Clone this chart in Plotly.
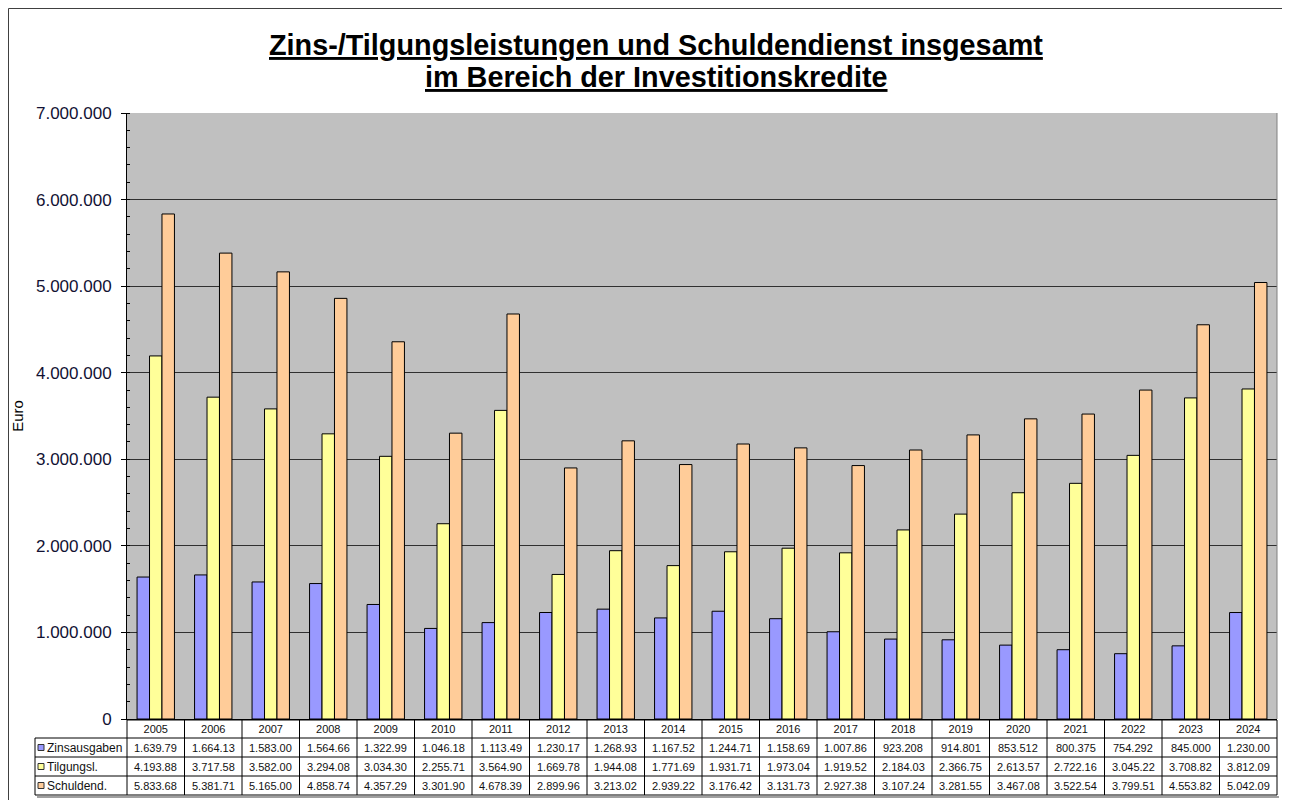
import plotly.graph_objects as go

years = [str(y) for y in range(2005, 2025)]
zins = [1639790, 1664130, 1583000, 1564660, 1322990, 1046180, 1113490, 1230170, 1268930, 1167520,
        1244710, 1158690, 1007860, 923208, 914801, 853512, 800375, 754292, 845000, 1230000]
tilg = [4193880, 3717580, 3582000, 3294080, 3034300, 2255710, 3564900, 1669780, 1944080, 1771690,
        1931710, 1973040, 1919520, 2184030, 2366750, 2613570, 2722160, 3045220, 3708820, 3812090]
schuld = [5833680, 5381710, 5165000, 4858740, 4357290, 3301900, 4678390, 2899960, 3213020, 2939220,
          3176420, 3131730, 2927380, 3107240, 3281550, 3467080, 3522540, 3799510, 4553820, 5042090]
series_names = ["Zinsausgaben", "Tilgungsl.", "Schuldend."]
colors = ["#9999FF", "#FFFF99", "#FFCC99"]
series = [zins, tilg, schuld]
title_lines = ["Zins-/Tilgungsleistungen und Schuldendienst insgesamt",
               "im Bereich der Investitionskredite"]

OFF = 8  # page body margin
W, H = 1290 - OFF, 800 - OFF
L, T = 127 - OFF, 113 - OFF
R = W - (1277 - OFF)
B = H - (719 - OFF)
PW, PH = W - L - R, H - T - B


def px(xp):
    return (xp - OFF - L) / PW


def py(yp):
    return (H - B - (yp - OFF)) / PH


def cell_text(v):
    # Excel data table shows truncated cell contents
    return f"{v:,}".replace(",", ".")[:8]


fig = go.Figure()
for name, vals, col in zip(series_names, series, colors):
    fig.add_trace(go.Bar(x=years, y=vals, name=name,
                         marker=dict(color=col, line=dict(color="black", width=1)),
                         showlegend=False))

n = len(years)
shapes = []
annotations = []
row_y = [738, 757, 776, 795]
tl = dict(color="black", width=1)
shapes.append(dict(type="line", xref="paper", yref="paper", x0=0, x1=1, y0=py(720), y1=py(720), line=tl))
for yy in row_y:
    shapes.append(dict(type="line", xref="paper", yref="paper", x0=px(35), x1=1, y0=py(yy), y1=py(yy), line=tl))
for i in range(n + 1):
    shapes.append(dict(type="line", xref="paper", yref="paper", x0=i / n, x1=i / n, y0=py(720), y1=py(795),
                       line=tl))
shapes.append(dict(type="line", xref="paper", yref="paper", x0=px(35), x1=px(35), y0=py(738), y1=py(795),
                   line=tl))
# table shadow
shapes.append(dict(type="line", xref="paper", yref="paper", x0=px(37), x1=px(1279), y0=py(797), y1=py(797),
                   line=dict(color="#A0A0A0", width=2)))
# plot area right frame
shapes.append(dict(type="line", xref="paper", yref="paper", x0=1, x1=1, y0=0, y1=1,
                   line=dict(color="#808080", width=1)))
# outer chart frame
shapes.append(dict(type="line", xref="paper", yref="paper", x0=px(8.5), x1=px(1290), y0=py(8.5), y1=py(8.5),
                   line=dict(color="#404040", width=1)))
shapes.append(dict(type="line", xref="paper", yref="paper", x0=px(8.5), x1=px(8.5), y0=py(8.5), y1=py(800),
                   line=dict(color="#404040", width=1)))

for r, (name, vals, col) in enumerate(zip(series_names, series, colors)):
    yc = py((row_y[r] + row_y[r + 1]) / 2)
    shapes.append(dict(type="rect", xref="paper", yref="paper", xsizemode="pixel", ysizemode="pixel",
                       xanchor=px(41), yanchor=yc, x0=-3, x1=3, y0=-3, y1=3,
                       fillcolor=col, line=dict(color="#333333", width=1)))
    annotations.append(dict(xref="paper", yref="paper", x=px(45), y=yc, text=name, showarrow=False,
                            xanchor="left", yanchor="middle",
                            font=dict(family="Liberation Sans, Arial", size=12, color="#111")))
    for i, v in enumerate(vals):
        annotations.append(dict(xref="x", yref="paper", x=i, y=yc, text=cell_text(v), showarrow=False,
                                xanchor="center", yanchor="middle",
                                font=dict(family="Liberation Sans, Arial", size=11, color="#111")))

for line, yl in zip(title_lines, [45, 77]):
    annotations.append(dict(xref="paper", yref="paper", x=px(656), y=py(yl), text=f"<b><u>{line}</u></b>",
                            showarrow=False, xanchor="center", yanchor="middle",
                            font=dict(family="Liberation Sans, Arial", size=28.8, color="black")))

fig.update_layout(
    width=W, height=H,
    margin=dict(l=L, r=R, t=T, b=B, autoexpand=False),
    paper_bgcolor="white",
    plot_bgcolor="#C0C0C0",
    separators=",.",
    barmode="group",
    bargap=0.35,
    bargroupgap=0,
    xaxis=dict(type="category", range=[-0.5, n - 0.5], showline=True, linecolor="black", linewidth=1,
               ticks="", showgrid=False, tickfont=dict(family="Liberation Sans, Arial", size=11, color="#111"),
               ticklabelstandoff=0),
    yaxis=dict(range=[0, 7000000], dtick=1000000, tickformat=",d", showline=True, linecolor="black",
               linewidth=1, ticks="outside", ticklen=5, tickcolor="black",
               showgrid=True, gridcolor="#303030", gridwidth=1, zeroline=False,
               tickfont=dict(family="Liberation Sans, Arial", size=17, color="#111133"),
               ticklabelstandoff=6,
               minor=dict(dtick=200000, ticks="inside", ticklen=3, tickcolor="black", showgrid=False),
               title=dict(text="Euro", font=dict(family="Liberation Sans, Arial", size=15, color="black"),
                          standoff=8)),
    shapes=shapes,
    annotations=annotations,
)

fig.write_html("out.html")
